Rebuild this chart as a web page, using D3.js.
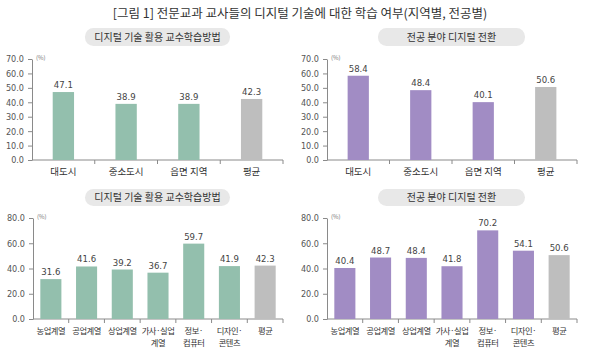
<!DOCTYPE html>
<html>
<head>
<meta charset="utf-8">
<script src="https://cdn.jsdelivr.net/npm/d3@7"></script>
<style>
  body { margin: 0; background: #fff; }
  text { font-family: "Noto Sans CJK KR", "Noto Sans", sans-serif; }
  .axis path, .axis line { stroke: #8a8a8a; }
  .axis text { fill: #555; font-size: 9px; font-family: "DejaVu Sans Condensed", "Roboto", sans-serif; }
</style>
</head>
<body>
<svg id="chart"></svg>
<script>
// data
var regions = ["대도시", "중소도시", "읍면 지역", "평균"];
var regionTeach = [47.1, 38.9, 38.9, 42.3];
var regionMajor = [58.4, 48.4, 40.1, 50.6];

var majors = ["농업계열", "공업계열", "상업계열", "가사·실업|계열", "정보·|컴퓨터", "디자인·|콘텐츠", "평균"];
var majorTeach = [31.6, 41.6, 39.2, 36.7, 59.7, 41.9, 42.3];
var majorMajor = [40.4, 48.7, 48.4, 41.8, 70.2, 54.1, 50.6];

var topTicks = [0, 10, 20, 30, 40, 50, 60, 70];
var bottomTicks = [0, 20, 40, 60, 80];

var panelTitles = ["디지털 기술 활용 교수학습방법", "전공 분야 디지털 전환"];
var mainTitle = "[그림 1] 전문교과 교사들의 디지털 기술에 대한 학습 여부(지역별, 전공별)";

var width = 599, height = 353;
var svg = d3.select("#chart").attr("width", width).attr("height", height);

svg.append("text")
  .attr("x", 300).attr("y", 18)
  .attr("text-anchor", "middle")
  .style("font-size", "12.5px")
  .style("fill", "#333")
  .text(mainTitle);

function drawPanel(opt) {
  var g = svg.append("g");

  // pill title
  g.append("rect")
    .attr("x", opt.pill[0]).attr("y", opt.pill[1])
    .attr("width", opt.pill[2] - opt.pill[0]).attr("height", opt.pill[3] - opt.pill[1])
    .attr("rx", 8.5)
    .attr("fill", "#e8e8e8");
  g.append("text")
    .attr("x", (opt.pill[0] + opt.pill[2]) / 2)
    .attr("y", (opt.pill[1] + opt.pill[3]) / 2 + 3.5)
    .attr("text-anchor", "middle")
    .style("font-size", "10px")
    .style("fill", "#333")
    .text(opt.title);

  var x = d3.scaleBand()
    .domain(opt.cats)
    .range([opt.x0, opt.x1])
    .paddingInner(opt.pad)
    .paddingOuter(opt.pad / 2);

  var y = d3.scaleLinear()
    .domain([0, opt.ticks[opt.ticks.length - 1]])
    .range([opt.y0, opt.y1]);

  // y axis
  g.append("g")
    .attr("class", "axis")
    .attr("transform", "translate(" + opt.x0 + ",0)")
    .call(d3.axisLeft(y).tickValues(opt.ticks).tickSize(4).tickSizeOuter(0).tickFormat(d3.format(".1f")))
    .call(function(a) { a.selectAll("text").attr("dx", "-1"); });

  // (%) unit
  g.append("text")
    .attr("x", opt.x0 + 4).attr("y", y(opt.ticks[opt.ticks.length - 1]) + 1)
    .style("font-size", "6px")
    .style("fill", "#777")
    .text("(%)");

  // x axis line with ticks between categories
  g.append("line")
    .attr("x1", opt.x0).attr("x2", opt.x1)
    .attr("y1", opt.y0).attr("y2", opt.y0)
    .attr("stroke", "#8a8a8a");
  var step = x.step();
  for (var i = 1; i <= opt.cats.length; i++) {
    var bx = opt.x0 + step * i;
    g.append("line")
      .attr("x1", bx).attr("x2", bx)
      .attr("y1", opt.y0).attr("y2", opt.y0 + 4)
      .attr("stroke", "#8a8a8a");
  }

  // bars
  var data = opt.cats.map(function(c, i) { return {cat: c, v: opt.values[i]}; });
  g.selectAll(".bar")
    .data(data)
    .enter().append("rect")
    .attr("x", function(d) { return x(d.cat); })
    .attr("y", function(d) { return y(d.v); })
    .attr("width", x.bandwidth())
    .attr("height", function(d) { return opt.y0 - y(d.v); })
    .attr("fill", function(d) { return d.cat == "평균" ? "#bebebe" : opt.color; });

  // value labels
  g.selectAll(".val")
    .data(data)
    .enter().append("text")
    .attr("x", function(d) { return x(d.cat) + x.bandwidth() / 2; })
    .attr("y", function(d) { return y(d.v) - 4; })
    .attr("text-anchor", "middle")
    .style("font-size", "9.5px")
    .style("font-family", "'DejaVu Sans Condensed', Roboto, sans-serif")
    .style("fill", "#444")
    .text(function(d) { return d.v.toFixed(1); });

  // category labels
  var labels = g.selectAll(".cat")
    .data(data)
    .enter().append("text")
    .attr("text-anchor", "middle")
    .style("font-size", opt.catSize)
    .style("letter-spacing", opt.catSpacing)
    .style("fill", "#333");
  labels.each(function(d) {
    var lines = d.cat.split("|");
    var t = d3.select(this);
    lines.forEach(function(l, j) {
      t.append("tspan")
        .attr("x", x(d.cat) + x.bandwidth() / 2)
        .attr("y", opt.y0 + 15 + j * 11.5)
        .text(l);
    });
  });
}

drawPanel({title: panelTitles[0], pill: [85, 28, 230, 46], cats: regions, values: regionTeach,
  x0: 32, x1: 283, y0: 160, y1: 59, ticks: topTicks, pad: 0.66, color: "#93bfad",
  catSize: "9.5px", catSpacing: "0px"});
drawPanel({title: panelTitles[1], pill: [378, 28, 525, 46], cats: regions, values: regionMajor,
  x0: 327, x1: 577, y0: 160, y1: 59, ticks: topTicks, pad: 0.66, color: "#a18cc4",
  catSize: "9.5px", catSpacing: "0px"});
drawPanel({title: panelTitles[0], pill: [85, 189, 230, 206], cats: majors, values: majorTeach,
  x0: 33, x1: 283, y0: 319, y1: 218, ticks: bottomTicks, pad: 0.41, color: "#93bfad",
  catSize: "8.3px", catSpacing: "-0.5px"});
drawPanel({title: panelTitles[1], pill: [378, 189, 525, 206], cats: majors, values: majorMajor,
  x0: 327, x1: 577, y0: 319, y1: 218, ticks: bottomTicks, pad: 0.41, color: "#a18cc4",
  catSize: "8.3px", catSpacing: "-0.5px"});
</script>
</body>
</html>
